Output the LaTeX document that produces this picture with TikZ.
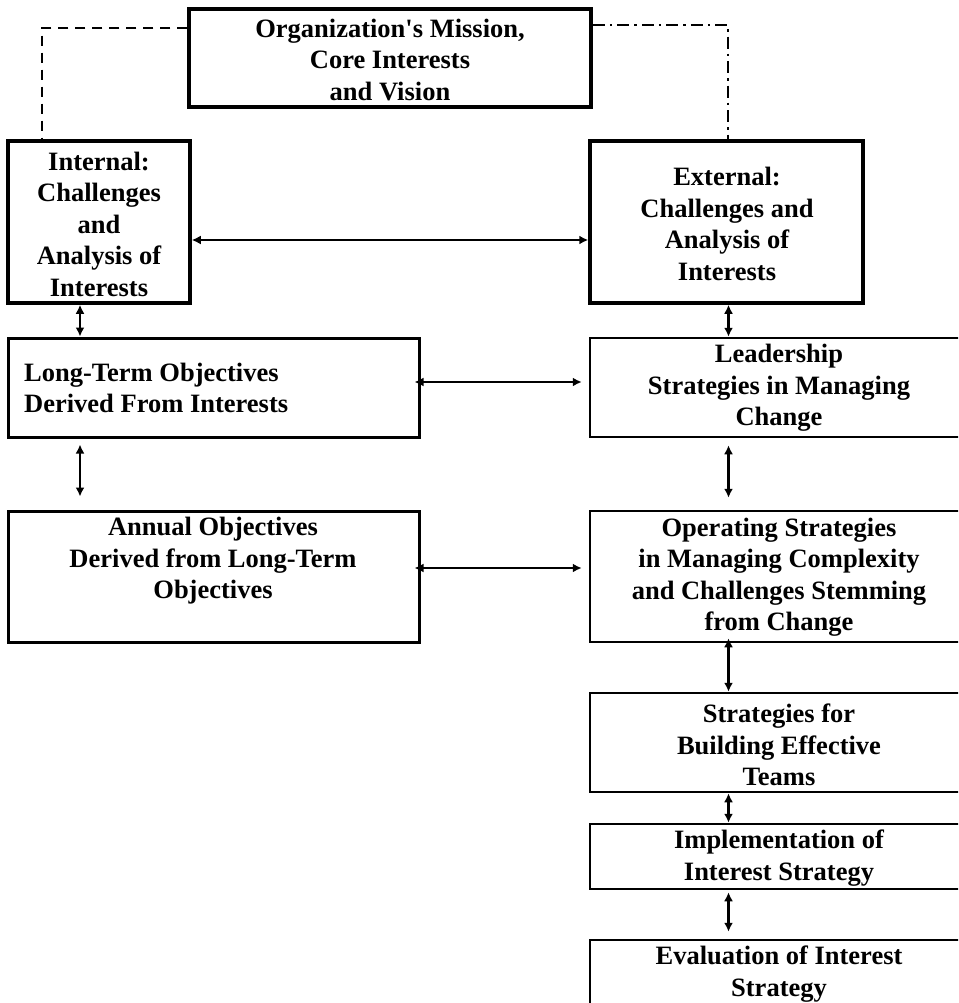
\documentclass[tikz,border=0pt]{standalone}
\usepackage{fontspec}
\setmainfont{Liberation Serif}[Ligatures=TeXOff]
\usetikzlibrary{arrows.meta}
\tikzset{
  boxthick/.style={draw, line width=3.5pt, inner sep=0pt},
  boxmid/.style={draw, line width=3pt, inner sep=0pt},
  boxthin/.style={draw, line width=2.5pt, inner sep=0pt},
  txt/.style={font=\fontsize{26.5}{31.5}\selectfont\bfseries, align=center, inner sep=0pt},
  arr/.style={line width=2.5pt, {Latex[length=9pt,width=9pt]}-{Latex[length=9pt,width=9pt]}},
  dashlink/.style={line width=2.5pt, dash pattern=on 10pt off 7pt},
  dashdotlink/.style={line width=2.5pt, dash pattern=on 12pt off 5pt on 2.5pt off 5pt},
}
\begin{document}
\begin{tikzpicture}[x=1pt,y=-1pt]
\useasboundingbox (0,0) rectangle (958,1003);
\clip (0,0) rectangle (958,1003);
% boxes
\node[boxthick, minimum width=402pt, minimum height=98pt] (mission) at (390,58) {};
\node[boxthick, minimum width=182pt, minimum height=162pt] (internal) at (99,222) {};
\node[boxthick, minimum width=273pt, minimum height=162pt] (external) at (726.5,222) {};
\node[boxmid, minimum width=411pt, minimum height=99pt] (longterm) at (213.5,387.5) {};
\node[boxmid, minimum width=411pt, minimum height=131pt] (annual) at (213.5,576.5) {};
\node[boxthin, minimum width=380pt, minimum height=99pt] (leader) at (780,387.5) {};
\node[boxthin, minimum width=380pt, minimum height=131pt] (operating) at (780,576.5) {};
\node[boxthin, minimum width=380pt, minimum height=99pt] (building) at (780,742.5) {};
\node[boxthin, minimum width=380pt, minimum height=65pt] (implem) at (780,856.5) {};
\node[boxthin, minimum width=380pt, minimum height=70pt] (evalu) at (780,975) {};
% texts
\node[txt] (missiont) at (390,60) {Organization's Mission,\\Core Interests\\and Vision};
\node[txt] (internalt) at (99,224) {Internal:\\Challenges\\and\\Analysis of\\Interests};
\node[txt] (externalt) at (727,224) {External:\\Challenges and\\Analysis of\\Interests};
\node[txt, align=left, anchor=west] (longtermt) at (24,388) {Long-Term Objectives\\Derived From Interests};
\node[txt] (annualt) at (213,561) {Annual Objectives\\Derived from Long-Term\\Objectives};
\node[txt] (leadert) at (779,388) {Leadership\\Strategies in Managing\\Change};
\node[txt] (operatingt) at (779,577) {Operating Strategies\\in Managing Complexity\\and Challenges Stemming\\from Change};
\node[txt] (buildingt) at (779,745) {Strategies for\\Building Effective\\Teams};
\node[txt] (implemt) at (779,858) {Implementation of\\Interest Strategy};
\node[txt] (evalut) at (779,974) {Evaluation of Interest\\Strategy};
% helper coordinates
\coordinate (colL) at (80,0);
\coordinate (colR) at (728.5,0);
\coordinate (dashx) at (42,0);
\coordinate (dashy) at (0,28);
\coordinate (ddx) at (728,0);
\coordinate (ddy) at (0,25);
\coordinate (row1) at (0,240);
\coordinate (row2) at (0,382);
\coordinate (row3) at (0,568);
% dashed links from mission
\draw[dashlink] (mission.west |- dashy) -- (dashx |- dashy) -- (internal.north -| dashx);
\draw[dashdotlink] (mission.east |- ddy) -- (ddx |- ddy) -- (external.north -| ddx);
% arrows
\draw[arr] (internal.east |- row1) -- (external.west |- row1);
\draw[arr] (internal.south -| colL) -- (longterm.north -| colL);
\draw[arr, shorten <=6pt, shorten >=13pt] (longterm.south -| colL) -- (annual.north -| colL);
\draw[arr] (external.south -| colR) -- (leader.north -| colR);
\draw[arr, shorten <=-6pt, shorten >=7pt] (longterm.east |- row2) -- (leader.west |- row2);
\draw[arr, shorten <=-6pt, shorten >=7pt] (annual.east |- row3) -- (operating.west |- row3);
\draw[arr, shorten <=7pt, shorten >=12pt] (leader.south -| colR) -- (operating.north -| colR);
\draw[arr, shorten <=-5pt] (operating.south -| colR) -- (building.north -| colR);
\draw[arr] (building.south -| colR) -- (implem.north -| colR);
\draw[arr, shorten <=2pt, shorten >=7pt] (implem.south -| colR) -- (evalu.north -| colR);
\end{tikzpicture}
\end{document}
